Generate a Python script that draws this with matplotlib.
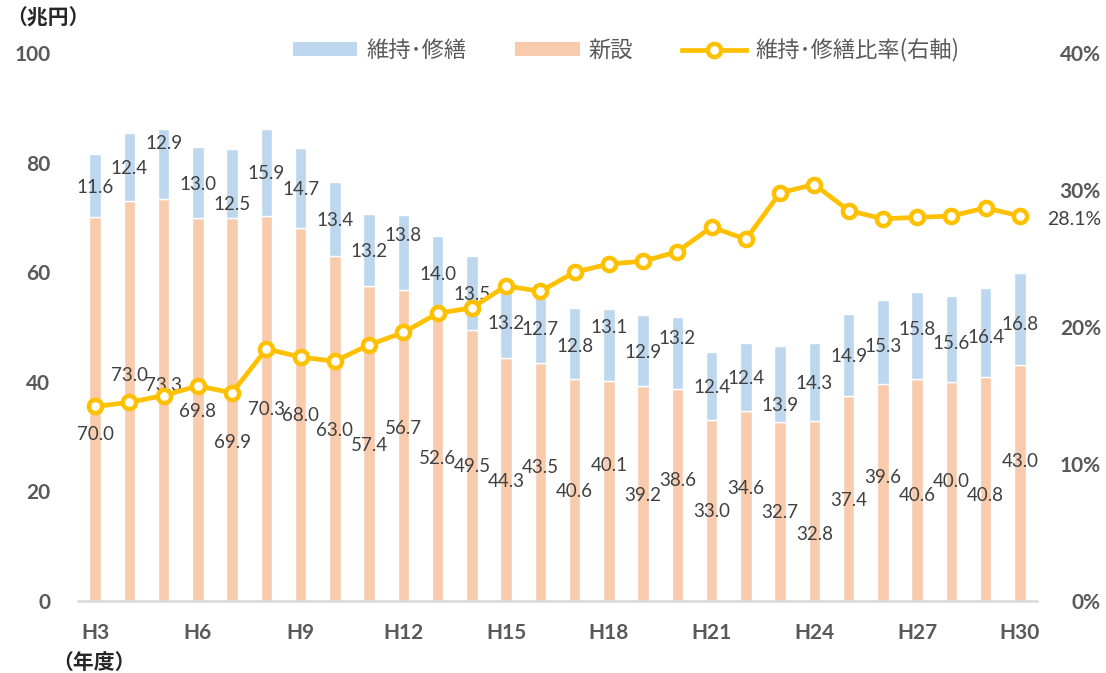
import matplotlib
matplotlib.use("Agg")
import matplotlib.pyplot as plt
from matplotlib.patches import Patch
from matplotlib.lines import Line2D
import numpy as np

# ---- data ----
years = ["H3", "H4", "H5", "H6", "H7", "H8", "H9", "H10", "H11", "H12", "H13", "H14",
         "H15", "H16", "H17", "H18", "H19", "H20", "H21", "H22", "H23", "H24", "H25",
         "H26", "H27", "H28", "H29", "H30"]
new_build = [70.0, 73.0, 73.3, 69.8, 69.9, 70.3, 68.0, 63.0, 57.4, 56.7, 52.6, 49.5,
             44.3, 43.5, 40.6, 40.1, 39.2, 38.6, 33.0, 34.6, 32.7, 32.8, 37.4, 39.6,
             40.6, 40.0, 40.8, 43.0]
maintenance = [11.6, 12.4, 12.9, 13.0, 12.5, 15.9, 14.7, 13.4, 13.2, 13.8, 14.0, 13.5,
               13.2, 12.7, 12.8, 13.1, 12.9, 13.2, 12.4, 12.4, 13.9, 14.3, 14.9, 15.3,
               15.8, 15.6, 16.4, 16.8]
ratio = [14.2, 14.5, 15.0, 15.7, 15.2, 18.4, 17.8, 17.5, 18.7, 19.6, 21.0, 21.4,
         23.0, 22.6, 24.0, 24.6, 24.8, 25.5, 27.3, 26.4, 29.8, 30.4, 28.5, 27.9,
         28.0, 28.1, 28.7, 28.1]
shown_ticks = ["H3", "H6", "H9", "H12", "H15", "H18", "H21", "H24", "H27", "H30"]
left_ticks = [0, 20, 40, 60, 80, 100]
right_ticks = [0, 10, 20, 30, 40]

# ---- layout: data-label heights (left-axis units), as placed in the reference ----
label_y_new = [30.4, 41.1, 39.3, 34.5, 29.0, 34.9, 33.8, 31.2, 28.3, 31.4, 26.0, 24.5,
               21.8, 24.3, 19.9, 24.7, 19.3, 21.9, 16.3, 20.5, 16.2, 12.2, 18.4, 22.6,
               19.2, 21.8, 19.3, 25.4]
label_y_maint = [75.4, 78.9, 83.4, 76.0, 72.3, 78.0, 75.1, 69.5, 63.7, 66.7, 59.5, 56.0,
                 50.7, 49.6, 46.5, 49.9, 45.4, 47.9, 39.0, 40.6, 35.6, 39.7, 44.6, 46.5,
                 49.5, 46.9, 48.0, 50.5]

C_BLUE = "#BDD7EE"
C_PEACH = "#F8CBAD"
C_LINE = "#FFC000"
C_TICK = "#595959"
C_LBL = "#404040"
JP = ["Noto Sans CJK JP", "DejaVu Sans"]
NUM = ["Lato", "DejaVu Sans"]

fig = plt.figure(figsize=(11.06, 6.73), dpi=100)
ax = fig.add_axes([78 / 1106, 1 - 601 / 673, (1037 - 78) / 1106, (601 - 53) / 673])
ax2 = ax.twinx()

x = np.arange(len(years))
w = 0.33
ax.bar(x, new_build, w, color=C_PEACH, edgecolor="white", linewidth=1.0, zorder=2)
ax.bar(x, maintenance, w, bottom=new_build, color=C_BLUE, edgecolor="white",
       linewidth=1.0, zorder=2)

ax2.plot(x, ratio, color=C_LINE, lw=3.4, marker="o", markersize=9.5,
         markerfacecolor="white", markeredgecolor=C_LINE, markeredgewidth=3.2, zorder=5)

for i in range(len(years)):
    ax.text(x[i], label_y_new[i], f"{new_build[i]:.1f}", ha="center", va="center",
            fontsize=13.5, color=C_LBL, family=NUM, zorder=6)
    ax.text(x[i], label_y_maint[i], f"{maintenance[i]:.1f}", ha="center", va="center",
            fontsize=13.5, color=C_LBL, family=NUM, zorder=6)

ax2.annotate(f"{ratio[-1]:.1f}%", xy=(x[-1], ratio[-1]), xytext=(27, -3),
             textcoords="offset pixels", ha="left", va="center", fontsize=14,
             color=C_LBL, family=NUM, annotation_clip=False)

ax.set_xlim(-0.5, len(years) - 0.5)
ax.set_ylim(0, 100)
ax2.set_ylim(0, 40)

ax.set_yticks(left_ticks)
ax.set_yticklabels([str(t) for t in left_ticks])
ax2.set_yticks(right_ticks)
ax2.set_yticklabels([f"{t}%" for t in right_ticks])
ax.set_xticks([years.index(t) for t in shown_ticks])
ax.set_xticklabels(shown_ticks)

for a in (ax, ax2):
    for s in a.spines.values():
        s.set_visible(False)
ax.spines["bottom"].set_visible(True)
ax.spines["bottom"].set_color("#D9D9D9")
ax.spines["bottom"].set_linewidth(1.8)

ax.tick_params(axis="y", length=0, pad=20, labelsize=15, labelcolor=C_TICK)
ax.tick_params(axis="x", length=0, pad=16, labelsize=15, labelcolor=C_TICK)
ax2.tick_params(axis="y", length=0, pad=46, labelsize=15, labelcolor=C_TICK)
for lbl in ax.get_yticklabels() + ax.get_xticklabels():
    lbl.set_fontweight("bold")
    lbl.set_family(NUM)
for lbl in ax2.get_yticklabels():
    lbl.set_fontweight("bold")
    lbl.set_family(NUM)
    lbl.set_ha("right")

fig.text(6 / 1106, 1 - 18 / 673, "（兆円）", ha="left", va="center", fontsize=15,
         family=JP, color="#262626", fontweight="bold")
fig.text(52 / 1106, 1 - 662 / 673, "（年度）", ha="left", va="center", fontsize=15,
         family=JP, color="#262626", fontweight="bold")

handles = [Patch(facecolor=C_BLUE, edgecolor="none"),
           Patch(facecolor=C_PEACH, edgecolor="none"),
           Line2D([0], [0], color=C_LINE, lw=3.4, marker="o", markersize=9.5,
                  markerfacecolor="white", markeredgecolor=C_LINE, markeredgewidth=3.2)]
labels = ["維持･修繕", "新設", "維持･修繕比率(右軸)"]
leg = fig.legend(handles, labels, loc="center", bbox_to_anchor=(626 / 1106, 1 - 50 / 673),
                 ncol=3, frameon=False, handlelength=2.9, handleheight=0.55,
                 handletextpad=0.4, columnspacing=2.2, prop={"family": JP, "size": 16})
for t in leg.get_texts():
    t.set_color(C_TICK)

fig.savefig("out.png", dpi=100)
